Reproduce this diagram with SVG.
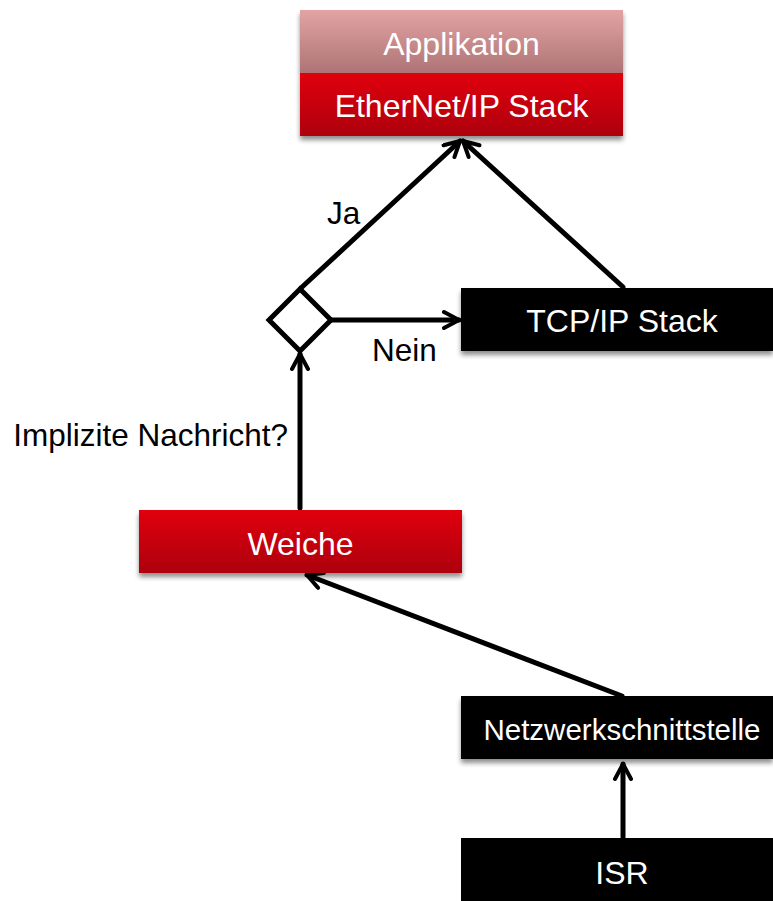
<svg xmlns="http://www.w3.org/2000/svg" width="773" height="901" viewBox="0 0 773 901">
<defs>
<linearGradient id="gPink" x1="0" y1="0" x2="0" y2="1"><stop offset="0" stop-color="#e3a3a3"/><stop offset="1" stop-color="#ae7475"/></linearGradient>
<linearGradient id="gRed" x1="0" y1="0" x2="0" y2="1"><stop offset="0" stop-color="#e0000c"/><stop offset="1" stop-color="#ad0008"/></linearGradient>
<filter id="sh" x="-10%" y="-20%" width="120%" height="150%"><feGaussianBlur in="SourceAlpha" stdDeviation="2.5"/><feOffset dx="0" dy="4"/><feComponentTransfer><feFuncA type="linear" slope="0.45"/></feComponentTransfer><feMerge><feMergeNode/><feMergeNode in="SourceGraphic"/></feMerge></filter>
<marker id="arr" viewBox="0 0 20 20" refX="18" refY="10" markerWidth="20" markerHeight="20" markerUnits="userSpaceOnUse" orient="auto"><path d="M3,2 L18,10 L3,18" fill="none" stroke="#000" stroke-width="4" stroke-linecap="round" stroke-linejoin="round"/></marker>
</defs>
<style>
.t{font-family:"Liberation Sans",Arial,sans-serif;font-size:32px;fill:#fff;text-anchor:middle}
.l{font-family:"Liberation Sans",Arial,sans-serif;font-size:31.5px;fill:#000}
.c{fill:none;stroke:#000;stroke-width:5;stroke-linecap:round}
</style>
<g id="connectors">
<line class="c" x1="301" y1="288" x2="460" y2="141" marker-end="url(#arr)"/>
<line class="c" x1="623" y1="287" x2="463" y2="141" marker-end="url(#arr)"/>
<line class="c" x1="331" y1="320" x2="459" y2="320" marker-end="url(#arr)"/>
<line class="c" x1="300" y1="508" x2="300" y2="354" marker-end="url(#arr)"/>
<line class="c" x1="622" y1="696" x2="307" y2="575" marker-end="url(#arr)"/>
<line class="c" x1="623" y1="837" x2="623" y2="764" marker-end="url(#arr)"/>
</g>
<g id="applikation"><rect x="300" y="10" width="323" height="63" fill="url(#gPink)" filter="url(#sh)"/><text class="t" x="461.5" y="55">Applikation</text></g>
<g id="ethernetip"><rect x="300" y="73" width="323" height="63" fill="url(#gRed)" filter="url(#sh)"/><text class="t" x="461.5" y="117">EtherNet/IP Stack</text></g>
<g id="decision"><polygon points="300,289 331,320 300,351 269,320" fill="#fff" stroke="#000" stroke-width="5" stroke-linejoin="miter"/></g>
<g id="tcpip"><rect x="461" y="288" width="312" height="63" fill="#000" filter="url(#sh)"/><text class="t" x="622" y="332">TCP/IP Stack</text></g>
<g id="weiche"><rect x="139" y="510" width="323" height="63" fill="url(#gRed)" filter="url(#sh)"/><text class="t" x="300.5" y="555">Weiche</text></g>
<g id="netzwerk"><rect x="461" y="696" width="312" height="63" fill="#000" filter="url(#sh)"/><text class="t" x="622" y="740" style="font-size:29.5px">Netzwerkschnittstelle</text></g>
<g id="isr"><rect x="461" y="838" width="312" height="63" fill="#000"/><text class="t" x="622" y="884">ISR</text></g>
<g id="labels">
<text class="l" x="327" y="224">Ja</text>
<text class="l" x="372" y="361">Nein</text>
<text class="l" x="288" y="446" text-anchor="end">Implizite Nachricht?</text>
</g>
</svg>
